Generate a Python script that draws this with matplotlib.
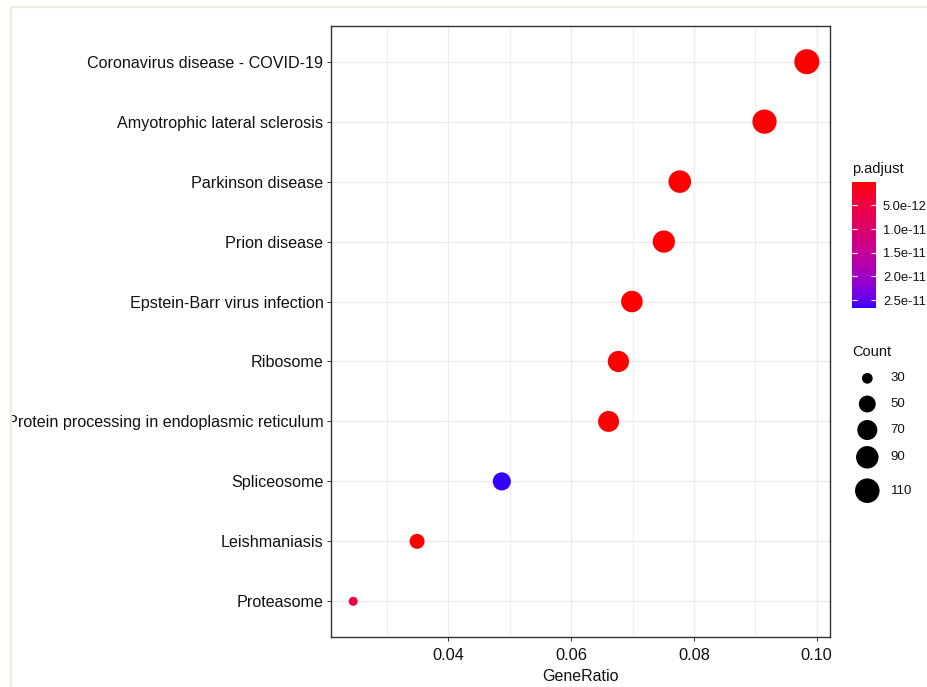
import numpy as np
import matplotlib
matplotlib.use("Agg")
import matplotlib.pyplot as plt
from matplotlib.colors import ListedColormap, Normalize, to_rgb
from matplotlib.cm import ScalarMappable
from matplotlib.patches import Rectangle

# ---------------- data ----------------
terms = [
    "Coronavirus disease - COVID-19",
    "Amyotrophic lateral sclerosis",
    "Parkinson disease",
    "Prion disease",
    "Epstein-Barr virus infection",
    "Ribosome",
    "Protein processing in endoplasmic reticulum",
    "Spliceosome",
    "Leishmaniasis",
    "Proteasome",
]
gene_ratio = [0.0984, 0.0915, 0.0777, 0.0751, 0.0699, 0.0677, 0.0661, 0.0487, 0.0349, 0.0245]
counts = [115, 107, 91, 88, 82, 79, 77, 57, 41, 29]
p_adjust = [1e-30, 1e-26, 1e-22, 1e-21, 1e-18, 1e-20, 1e-19, 2.66e-11, 1e-14, 5.5e-12]

x_ticks = [0.04, 0.06, 0.08, 0.10]
x_tick_labels = ["0.04", "0.06", "0.08", "0.10"]
x_minor = [0.03, 0.05, 0.07, 0.09]
size_breaks = [30, 50, 70, 90, 110]
cbar_ticks = [5e-12, 1e-11, 1.5e-11, 2e-11, 2.5e-11]
cbar_tick_labels = ["5.0e-12", "1.0e-11", "1.5e-11", "2.0e-11", "2.5e-11"]

plt.rcParams["font.family"] = ["Liberation Sans", "DejaVu Sans"]

W, H = 927, 687
DPI = 100


# ---------------- Lab gradient (like ggplot's seq_gradient_pal) ----------------
def _srgb_to_lab(rgb):
    rgb = np.asarray(rgb, float)
    lin = np.where(rgb <= 0.04045, rgb / 12.92, ((rgb + 0.055) / 1.055) ** 2.4)
    M = np.array([[0.4124564, 0.3575761, 0.1804375],
                  [0.2126729, 0.7151522, 0.0721750],
                  [0.0193339, 0.1191920, 0.9503041]])
    xyz = M @ lin
    wp = np.array([0.95047, 1.0, 1.08883])
    t = xyz / wp
    f = np.where(t > (6 / 29) ** 3, np.cbrt(t), t / (3 * (6 / 29) ** 2) + 4 / 29)
    return np.array([116 * f[1] - 16, 500 * (f[0] - f[1]), 200 * (f[1] - f[2])])


def _lab_to_srgb(lab):
    L, a, b = lab
    fy_ = (L + 16) / 116
    fx_ = fy_ + a / 500
    fz_ = fy_ - b / 200
    f = np.array([fx_, fy_, fz_])
    t = np.where(f > 6 / 29, f ** 3, 3 * (6 / 29) ** 2 * (f - 4 / 29))
    xyz = t * np.array([0.95047, 1.0, 1.08883])
    Minv = np.array([[3.2404542, -1.5371385, -0.4985314],
                     [-0.9692660, 1.8760108, 0.0415560],
                     [0.0556434, -0.2040259, 1.0572252]])
    lin = np.clip(Minv @ xyz, 0, 1)
    srgb = np.where(lin <= 0.0031308, 12.92 * lin, 1.055 * lin ** (1 / 2.4) - 0.055)
    return np.clip(srgb, 0, 1)


lab_lo = _srgb_to_lab(to_rgb("#FF0000"))
lab_hi = _srgb_to_lab(to_rgb("#3300FF"))
cmap = ListedColormap([_lab_to_srgb(lab_lo + (lab_hi - lab_lo) * t) for t in np.linspace(0, 1, 256)])
norm = Normalize(vmin=min(p_adjust), vmax=max(p_adjust))

# ---------------- size scale (area) ----------------
D_MIN, D_MAX = 9.0, 25.0  # px
cmin, cmax = min(counts), max(counts)


def marker_area(c):
    d_px = D_MIN + (D_MAX - D_MIN) * np.sqrt((np.asarray(c, float) - cmin) / (cmax - cmin))
    d_pt = d_px * 72.0 / DPI
    return d_pt ** 2


# ---------------- figure ----------------
fig = plt.figure(figsize=(W / DPI, H / DPI), dpi=DPI)
fig.patch.set_facecolor("white")

ax_l, ax_r, ax_t, ax_b = 330.7, 830.0, 25.7, 637.3
ax = fig.add_axes([ax_l / W, 1 - ax_b / H, (ax_r - ax_l) / W, (ax_b - ax_t) / H])

n = len(terms)
ypos = np.arange(n, 0, -1)
ax.scatter(gene_ratio, ypos, s=marker_area(counts), c=p_adjust, cmap=cmap, norm=norm,
           marker="o", linewidths=0, zorder=3)

ax.set_xlim(0.02083, 0.10217)
ax.set_ylim(0.4, n + 0.6)
ax.set_xticks(x_ticks)
ax.set_xticklabels(x_tick_labels)
ax.set_xticks(x_minor, minor=True)
ax.set_yticks(ypos)
ax.set_yticklabels(terms)

ax.grid(which="major", color="#EBEBEB", linewidth=0.9, zorder=0)
ax.grid(which="minor", axis="x", color="#EBEBEB", linewidth=0.6, zorder=0)
ax.set_axisbelow(True)
for sp in ax.spines.values():
    sp.set_color("#333333")
    sp.set_linewidth(1.0)
ax.tick_params(which="major", direction="out", length=3.2, width=0.7, color="#333333",
               labelsize=11.6, labelcolor="#111111", pad=2)
ax.tick_params(which="minor", length=0)
ax.tick_params(axis="x", pad=4.5, labelsize=11.8)
ax.set_xlabel("GeneRatio", fontsize=11.5, color="#111111", labelpad=4)

# ---------------- colour bar legend ----------------
cb_l, cb_t, cb_w, cb_h = 851.7, 181.7, 24.3, 126.0
cax = fig.add_axes([cb_l / W, 1 - (cb_t + cb_h) / H, cb_w / W, cb_h / H])
sm = ScalarMappable(norm=norm, cmap=cmap)
cb = fig.colorbar(sm, cax=cax)
cb.outline.set_visible(False)
cax.invert_yaxis()
cb.set_ticks(cbar_ticks)
cb.set_ticklabels(cbar_tick_labels)
cax.tick_params(direction="in", length=3.5, width=0.8, color="white", left=True, right=True,
                labelsize=9.3, labelcolor="#111111", pad=5)
fig.text(852.5 / W, 1 - 168.5 / H, "p.adjust", ha="left", va="center", fontsize=10.5, color="#111111")

# ---------------- overlay (size legend + frame) ----------------
ov = fig.add_axes([0, 0, 1, 1], zorder=5)
ov.set_xlim(0, W)
ov.set_ylim(H, 0)
ov.axis("off")

ov.text(852.5, 351.7, "Count", ha="left", va="center", fontsize=10.5, color="#111111")
key_y = [378.3, 404.0, 430.0, 457.3, 490.7]
ov.scatter([867.3] * len(size_breaks), key_y, s=marker_area(size_breaks), color="black",
           linewidths=0, marker="o")
for yk, lab in zip(key_y, size_breaks):
    ov.text(890.5, yk, str(lab), ha="left", va="center", fontsize=9.5, color="#111111")

# screenshot frame
ov.add_patch(Rectangle((0, 0), 10.7, H, facecolor="white", edgecolor="none", zorder=1))
ov.add_patch(Rectangle((0, 0), W, 6.5, facecolor="white", edgecolor="none", zorder=1))
ov.plot([10.7, 10.7], [7, H], color="#EEEBE1", linewidth=1.6, zorder=2, solid_capstyle="butt")
ov.plot([10.7, W], [7, 7], color="#EEEBE1", linewidth=1.6, zorder=2, solid_capstyle="butt")

fig.savefig("out.png", dpi=DPI)
